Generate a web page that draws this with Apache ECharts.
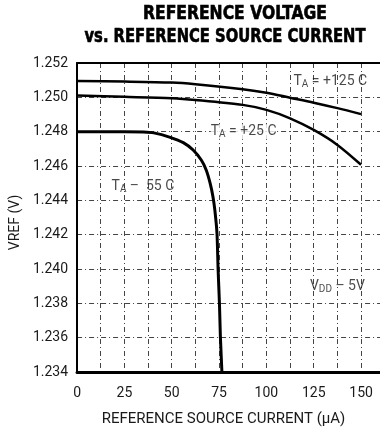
<!DOCTYPE html>
<html><head><meta charset="utf-8">
<script src="https://cdn.jsdelivr.net/npm/echarts@6/dist/echarts.min.js"></script>
<style>html,body{margin:0;padding:0;background:#fff}#c{width:380px;height:434px}</style>
</head><body><div id="c"></div>
<script>
// ---- data ----
const xTickLabels = ['0','25','50','75','100','125','150'];
const t125X = [0, 25, 50, 62.5, 87.5, 100, 112.5, 125, 137.5, 150];
const t125Y = [1.25095, 1.25092, 1.25086, 1.25076, 1.25047, 1.25027, 1.24998, 1.24969, 1.24937, 1.24902];
const t25X = [0, 25, 50, 62.5, 87.5, 100, 112.5, 125, 137.5, 150];
const t25Y = [1.25010, 1.25003, 1.24995, 1.24985, 1.24956, 1.24927, 1.24878, 1.24810, 1.24723, 1.24607];
const tm55X = [0, 25, 35, 40.5, 49.2, 56.1, 61.3, 65.6, 68.2, 70.3, 71.8, 72.8, 73.9, 74.5, 75.2, 75.7, 76.5];
const tm55Y = [1.2480, 1.2480, 1.24798, 1.24793, 1.24767, 1.24736, 1.24693, 1.24635, 1.24577, 1.24499, 1.2442, 1.2434, 1.24208, 1.23994, 1.2380, 1.23606, 1.2340];
const annTexts = ['{n|T}{s|A}{n| = +125 C}', '{n|T}{s|A}{n| = +25 C}', '{n|T}{s|A}{n| –  55 C}', '{n|V}{s|DD}{n| – 5V}'];
const annX = [114.3, 70.6, 18.2, 123];
const annY = [1.2509, 1.2480, 1.2448, 1.23896];
const titleLines = ['REFERENCE VOLTAGE', 'vs. REFERENCE SOURCE CURRENT'];

const FONT = 'Roboto, sans-serif';
const TFONT = 'bold 19px "DejaVu Sans Condensed", sans-serif';
const pairs = (xs, ys) => xs.map((x, i) => [x, ys[i]]);
const dash = { color: '#444', width: 1, type: [5, 3, 1, 3] };

// measure title widths to condense to the reference proportions
const ctx = document.createElement('canvas').getContext('2d');
ctx.font = TFONT;
const titleTargets = [{ cx: 235, y: 5, w: 184 }, { cx: 225, y: 28, w: 281 }];
const titleGraphics = titleLines.map((t, i) => {
  const w = ctx.measureText(t).width;
  const sx = titleTargets[i].w / w;
  return {
    type: 'text', x: titleTargets[i].cx, y: titleTargets[i].y, scaleX: sx,
    style: { text: t, x: 0, y: 0, textAlign: 'center', font: TFONT, fill: '#000', stroke: '#000', lineWidth: 0.6 }
  };
});

const chart = echarts.init(document.getElementById('c'));
chart.setOption({
  animation: false,
  backgroundColor: '#fff',
  graphic: titleGraphics,
  grid: { left: 72, right: 0, top: 63, bottom: 62 },
  xAxis: [{
    type: 'value', min: 0, max: 160, interval: 12.5,
    axisLine: { show: true, lineStyle: { color: '#000', width: 3 } },
    axisTick: { show: false },
    splitLine: { show: true, lineStyle: dash },
    axisLabel: {
      margin: 14, color: '#1a1a1a', fontFamily: FONT, fontSize: 14,
      showMaxLabel: false,
      formatter: v => { const i = xTickLabels.indexOf(String(v)); return i >= 0 ? xTickLabels[i] : ''; }
    },
    name: 'REFERENCE SOURCE CURRENT (µA)', nameLocation: 'middle', nameGap: 40,
    nameTextStyle: { color: '#1a1a1a', fontFamily: FONT, fontSize: 15, padding: [0, 0, 0, -10] }
  }, {
    type: 'value', position: 'top', min: 0, max: 160,
    axisLine: { show: true, lineStyle: { color: '#000', width: 2 } },
    axisTick: { show: false }, axisLabel: { show: false }, splitLine: { show: false }
  }],
  yAxis: {
    type: 'value', min: 1.234, max: 1.252, interval: 0.002,
    axisLine: { show: true, lineStyle: { color: '#000', width: 2 } },
    axisTick: { show: false },
    splitLine: { show: true, lineStyle: dash },
    axisLabel: { margin: 9, color: '#1a1a1a', fontFamily: FONT, fontSize: 14, formatter: v => v.toFixed(3) },
    name: 'VREF (V)', nameLocation: 'middle', nameGap: 50, nameRotate: 90,
    nameTextStyle: { color: '#1a1a1a', fontFamily: FONT, fontSize: 14, padding: [0, 0, 0, -10] }
  },
  series: [
    { type: 'line', data: pairs(t125X, t125Y), smooth: 0.3, symbol: 'none', lineStyle: { color: '#000', width: 2.5 } },
    { type: 'line', data: pairs(t25X, t25Y), smooth: 0.3, symbol: 'none', lineStyle: { color: '#000', width: 2.5 } },
    { type: 'line', data: pairs(tm55X, tm55Y), smooth: 0.2, symbol: 'none', lineStyle: { color: '#000', width: 3 } },
    {
      type: 'scatter', symbolSize: 0, z: 5, silent: true,
      data: annX.map((x, i) => ({ value: [x, annY[i]], label: { formatter: annTexts[i], backgroundColor: i === 1 ? '#fff' : 'transparent' } })),
      label: {
        show: true, position: 'right', distance: 0,
        rich: {
          n: { fontFamily: FONT, fontSize: 14, color: '#1a1a1a' },
          s: { fontFamily: FONT, fontSize: 10, color: '#1a1a1a', padding: [5, 0, 0, 0] }
        }
      }
    }
  ]
});
</script></body></html>
